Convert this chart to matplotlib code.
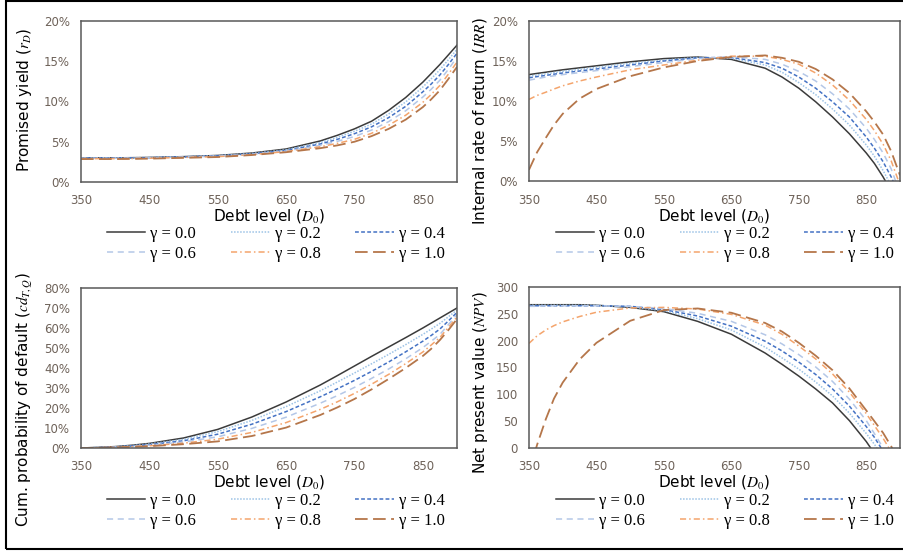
import numpy as np
import matplotlib
matplotlib.use("Agg")
import matplotlib.pyplot as plt
from matplotlib.patches import Rectangle
from matplotlib.ticker import FuncFormatter

plt.rcParams['font.family'] = ['DejaVu Sans']
plt.rcParams['mathtext.fontset'] = 'stix'

# debt level grid (D0)
debt = [350, 362, 375, 387, 400, 425, 450, 500, 550, 600, 650, 700, 725, 750, 775, 800, 825, 850, 862, 875, 887, 900]
gammas = ['0.0', '0.2', '0.4', '0.6', '0.8', '1.0']

# promised yield r_D (%)
yield_g00 = [3.00, 3.00, 3.00, 3.00, 3.00, 3.02, 3.05, 3.15, 3.30, 3.60, 4.10, 5.10, 5.80, 6.60, 7.55, 8.90, 10.50, 12.40, 13.45, 14.60, 15.75, 17.00]
yield_g02 = [3.00, 3.00, 3.00, 3.00, 3.00, 3.02, 3.05, 3.15, 3.28, 3.55, 4.00, 4.90, 5.55, 6.30, 7.20, 8.45, 9.95, 11.80, 12.80, 13.95, 15.15, 16.50]
yield_g04 = [2.98, 2.98, 2.98, 2.98, 2.98, 3.00, 3.02, 3.12, 3.25, 3.50, 3.92, 4.72, 5.30, 6.00, 6.85, 8.00, 9.40, 11.20, 12.15, 13.30, 14.55, 16.00]
yield_g06 = [2.95, 2.95, 2.95, 2.95, 2.95, 2.97, 3.00, 3.10, 3.22, 3.45, 3.85, 4.55, 5.05, 5.65, 6.45, 7.50, 8.85, 10.55, 11.50, 12.65, 13.95, 15.50]
yield_g08 = [2.90, 2.90, 2.90, 2.90, 2.90, 2.92, 2.95, 3.05, 3.15, 3.40, 3.78, 4.38, 4.80, 5.30, 6.05, 7.05, 8.30, 9.90, 10.85, 12.00, 13.35, 14.90]
yield_g10 = [2.85, 2.85, 2.85, 2.85, 2.85, 2.87, 2.90, 3.00, 3.10, 3.35, 3.70, 4.20, 4.55, 5.00, 5.70, 6.60, 7.75, 9.30, 10.25, 11.40, 12.75, 14.30]

# internal rate of return IRR (%)
irr_g00 = [13.3, 13.45, 13.6, 13.75, 13.9, 14.15, 14.4, 14.9, 15.3, 15.5, 15.2, 14.1, 13.0, 11.6, 9.9, 8.0, 5.9, 3.5, 2.2, 0.5, -1.3, -3.5]
irr_g02 = [13.1, 13.25, 13.4, 13.55, 13.7, 13.95, 14.2, 14.7, 15.1, 15.45, 15.35, 14.5, 13.6, 12.3, 10.8, 9.0, 7.0, 4.5, 3.1, 1.3, -0.6, -2.8]
irr_g04 = [12.9, 13.05, 13.2, 13.35, 13.5, 13.75, 14.0, 14.5, 15.0, 15.4, 15.45, 14.8, 14.1, 13.0, 11.6, 9.9, 8.0, 5.5, 4.1, 2.4, 0.5, -2.0]
irr_g06 = [12.6, 12.8, 13.0, 13.15, 13.3, 13.55, 13.8, 14.3, 14.8, 15.3, 15.55, 15.2, 14.6, 13.7, 12.5, 10.9, 9.0, 6.6, 5.2, 3.5, 1.5, -1.5]
irr_g08 = [10.2, 10.7, 11.1, 11.5, 11.9, 12.5, 13.0, 13.9, 14.5, 15.1, 15.6, 15.6, 15.2, 14.6, 13.5, 12.0, 10.1, 7.7, 6.3, 4.6, 2.5, -0.5]
irr_g10 = [1.4, 3.6, 5.4, 7.0, 8.4, 10.3, 11.5, 13.1, 14.2, 15.0, 15.5, 15.7, 15.4, 14.9, 14.0, 12.7, 11.0, 8.7, 7.4, 5.8, 3.7, 0.7]

# cumulative probability of default cd_{T,Q} (%)
pd_g00 = [0.0, 0.15, 0.30, 0.50, 0.70, 1.40, 2.3, 5.0, 9.3, 15.5, 23.0, 31.5, 36.2, 41.0, 45.8, 50.5, 55.2, 60.0, 62.4, 65.0, 67.4, 70.0]
pd_g02 = [0.0, 0.12, 0.25, 0.42, 0.60, 1.20, 2.0, 4.3, 8.2, 13.8, 20.7, 28.6, 33.0, 37.5, 42.1, 46.8, 51.7, 56.8, 59.4, 62.3, 65.5, 69.0]
pd_g04 = [0.0, 0.10, 0.20, 0.35, 0.50, 1.05, 1.7, 3.6, 6.9, 11.9, 18.2, 25.6, 29.6, 33.8, 38.3, 43.0, 48.1, 53.4, 56.2, 59.5, 63.4, 67.8]
pd_g06 = [0.0, 0.08, 0.15, 0.28, 0.40, 0.85, 1.4, 3.0, 5.6, 9.8, 15.4, 22.4, 26.2, 30.3, 34.8, 39.5, 44.6, 50.2, 53.3, 56.8, 61.5, 66.8]
pd_g08 = [0.0, 0.06, 0.10, 0.22, 0.35, 0.70, 1.1, 2.4, 4.4, 7.8, 12.7, 19.3, 23.1, 27.3, 31.9, 36.8, 42.2, 48.0, 51.4, 55.3, 60.1, 65.6]
pd_g10 = [0.0, 0.05, 0.10, 0.20, 0.30, 0.55, 0.9, 1.9, 3.3, 6.0, 10.2, 16.5, 20.3, 24.5, 29.3, 34.5, 40.0, 46.0, 49.5, 54.0, 58.8, 64.5]

# net present value NPV
npv_g00 = [267, 267, 267, 267, 267, 267, 266, 262, 254, 236, 212, 177, 156, 134, 110, 84, 51, 12, -10, -35, -58, -85]
npv_g02 = [266, 266, 266, 266, 266, 266, 266, 263, 256, 241, 220, 188, 168, 147, 123, 97, 65, 27, 7, -17, -42, -70]
npv_g04 = [265, 265, 265, 265, 265, 265, 265, 264, 258, 246, 227, 199, 181, 160, 137, 110, 78, 40, 20, -6, -32, -60]
npv_g06 = [264, 264, 265, 265, 265, 265, 265, 264, 260, 251, 236, 211, 194, 174, 151, 124, 91, 51, 27, 0, -24, -50]
npv_g08 = [195, 209, 220, 228, 235, 245, 253, 261, 262, 259, 249, 229, 212, 190, 166, 138, 104, 64, 42, 18, -7, -38]
npv_g10 = [-45, 6, 54, 92, 122, 165, 196, 237, 257, 260, 252, 233, 217, 196, 172, 145, 111, 70, 50, 28, 3, -28]

colors = ['#3b3b3b', '#9dc3e6', '#4472c4', '#b4c7e7', '#f4a46c', '#b5764a']
styles = ['-', (0, (1, 1)), (0, (2.5, 1.5)), (0, (4, 3)), (0, (4, 2, 1, 2)), (0, (7, 3))]
widths = [1.1, 1.1, 1.1, 1.1, 1.1, 1.3]

W, H = 904, 552
fig = plt.figure(figsize=(W / 100, H / 100), dpi=100)


def box(l, r, t, b):
    return [l / W, 1 - b / H, (r - l) / W, (b - t) / H]


def panel(rect, series, ylim, yticks, pct, ylabel, ylab_xy, xlab_y, leg_xy):
    ax = fig.add_axes(box(*rect))
    lines = []
    for k, vals in enumerate(series):
        ln, = ax.plot(debt, vals, color=colors[k], linestyle=styles[k], lw=widths[k],
                      label='γ = ' + gammas[k])
        lines.append(ln)
    ax.set_xlim(350, 900)
    ax.set_ylim(*ylim)
    ax.set_xticks(np.arange(350, 851, 100))
    ax.set_yticks(yticks)
    if pct:
        ax.yaxis.set_major_formatter(FuncFormatter(lambda v, p: f'{v:.0f}%'))
    ax.tick_params(length=0, labelsize=8.5, labelcolor='#6e6259')
    ax.tick_params(axis='x', pad=9)
    ax.tick_params(axis='y', pad=8)
    for s in ax.spines.values():
        s.set_color('#595959')
        s.set_linewidth(1.1)
    l, r, t, b = rect
    fig.text((l + r) / 2 / W, 1 - xlab_y / H, 'Debt level ($D_0$)', fontsize=11,
             ha='center', va='center')
    fig.text(ylab_xy[0] / W, 1 - ylab_xy[1] / H, ylabel, fontsize=11, rotation=90,
             ha='center', va='center')
    # row-wise order like the original legend
    order = [0, 3, 1, 4, 2, 5]
    ax.legend([lines[i] for i in order], [lines[i].get_label() for i in order],
              ncol=3, loc='upper left', bbox_to_anchor=(leg_xy[0] / W, 1 - leg_xy[1] / H),
              bbox_transform=fig.transFigure, frameon=False, borderpad=0, borderaxespad=0,
              handlelength=2.3, handletextpad=0.3, columnspacing=2.1, labelspacing=0.25,
              prop={'family': 'Liberation Serif', 'size': 12})
    return ax


panel((81, 457, 21, 182), [yield_g00, yield_g02, yield_g04, yield_g06, yield_g08, yield_g10],
      (0, 20), [0, 5, 10, 15, 20], True, 'Promised yield ($r_D$)', (25, 100), 216, (107, 226))
panel((529, 900, 21, 181), [irr_g00, irr_g02, irr_g04, irr_g06, irr_g08, irr_g10],
      (0, 20), [0, 5, 10, 15, 20], True, 'Internal rate of return ($IRR$)', (480, 121), 216, (556, 226))
panel((81, 457, 288, 448), [pd_g00, pd_g02, pd_g04, pd_g06, pd_g08, pd_g10],
      (0, 80), np.arange(0, 81, 10), True, 'Cum. probability of default ($cd_{T,Q}$)', (25, 400), 482,
      (107, 493))
panel((529, 900, 287, 448), [npv_g00, npv_g02, npv_g04, npv_g06, npv_g08, npv_g10],
      (0, 300), np.arange(0, 301, 50), False, 'Net present value ($NPV$)', (480, 383), 482, (556, 493))

# outer frame
fig.patches.append(Rectangle((6 / W, 3 / H), 1.0, 548 / H, transform=fig.transFigure,
                             fill=False, edgecolor='black', lw=1.5, clip_on=False))

fig.savefig('out.png', dpi=100)
